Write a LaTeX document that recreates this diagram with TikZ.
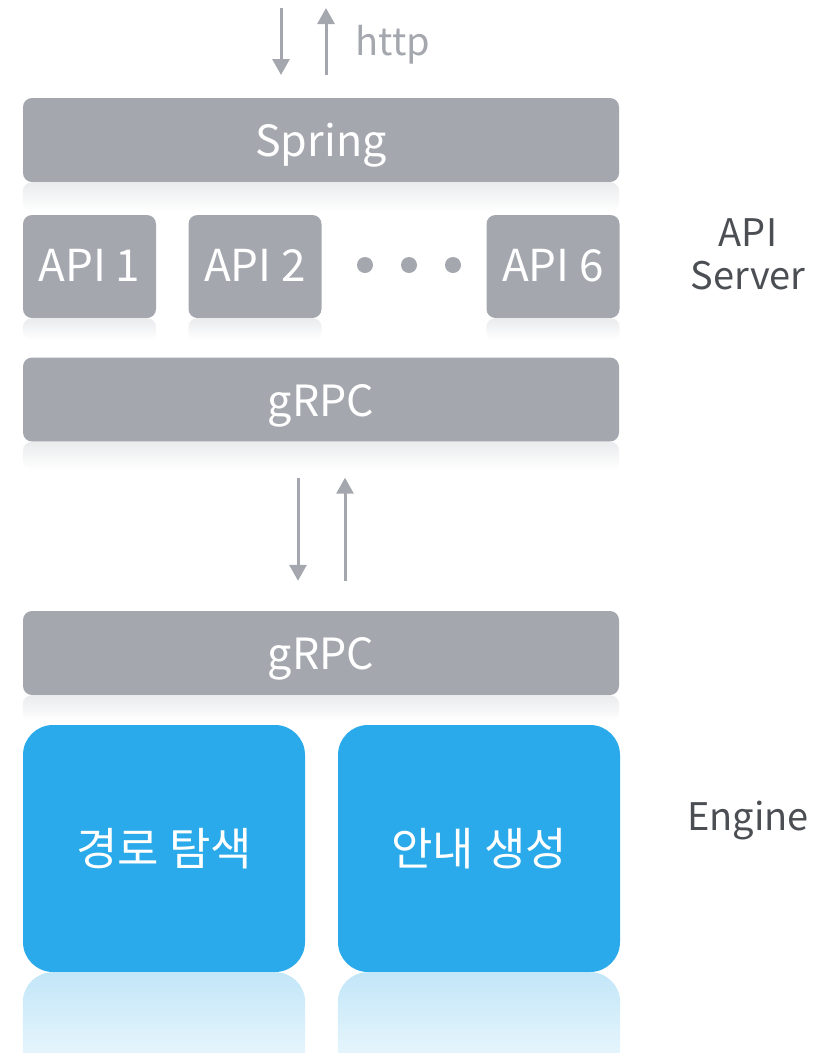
\documentclass[tikz,border=0pt]{standalone}
\usepackage{fontspec}
\setmainfont{Noto Sans CJK KR}
\usetikzlibrary{arrows.meta, positioning}

\definecolor{boxgray}{HTML}{A4A8AE}
\definecolor{engblue}{HTML}{2AAAEA}
\definecolor{lblgray}{HTML}{4B4E53}
\definecolor{shinegray}{HTML}{EAEBED}
\definecolor{shineblue}{HTML}{C2E6F8}

\begin{document}
\begin{tikzpicture}[
    x=1pt, y=-1pt,
    layer/.style={rectangle, fill=boxgray, rounded corners=9pt, minimum width=596pt, minimum height=84pt, inner sep=0pt, text=white, font=\fontsize{43}{50}\selectfont},
    bar/.style={layer, text height=33pt, text depth=0pt},
    apibox/.style={layer, minimum width=133pt, minimum height=103pt, text height=29pt, text depth=0pt, font=\fontsize{44}{50}\selectfont},
    engbox/.style={layer, fill=engblue, rounded corners=30pt, minimum width=282pt, minimum height=247pt, font=\fontsize{45}{52}\selectfont},
    lbl/.style={text=lblgray, align=center, font=\fontsize{38}{43}\selectfont},
    arr/.style={draw=boxgray, line width=3pt, -{Triangle[length=16pt, width=17pt]}},
    dot/.style={circle, fill=boxgray, minimum size=16pt, inner sep=0pt}
]
    \clip (0,0) rectangle (832,1053);

    % API server stack
    \node[bar] (spring) at (321,140) {Spring};
    \node[apibox] (api1) at (89.5,266.5) {API 1};
    \node[apibox] (api2) at (255,266.5) {API 2};
    \node[apibox] (api6) at (553,266.5) {API 6};
    \foreach \i/\x in {1/365, 2/409, 3/453}
        \node[dot] (more\i) at (\x,265) {};
    \node[bar] (grpcS) at (321,399.5) {gRPC};

    % engine stack
    \node[bar] (grpcE) at (321,653) {gRPC};
    \node[engbox] (route) at (164,848.5) {경로 탐색};
    \node[engbox] (guide) at (479,848.5) {안내 생성};

    % reflections under the boxes
    \foreach \n/\h in {spring/30, api1/22, api2/22, api6/22, grpcS/28, grpcE/26}
        \shade[top color=shinegray, bottom color=white, rounded corners=9pt]
            (\n.south west) rectangle ([yshift=-\h pt]\n.south east);
    \foreach \n in {route, guide}
        \shade[top color=shineblue, bottom color=engblue!4, rounded corners=30pt]
            (\n.south west) rectangle ([yshift=-120pt]\n.south east);

    \node[lbl] (srvlbl) at (748,254) {API\\Server};
    \node[lbl] (englbl) at (748,821) {Engine};

    % http in and out
    \coordinate (reqtop) at (281,8);
    \coordinate (reqbot) at (281,75);
    \coordinate (restop) at (326,8);
    \coordinate (resbot) at (326,75);
    \draw[arr] (reqtop) -- (reqbot);
    \draw[arr] (resbot) -- (restop);
    \node[text=boxgray, anchor=west, font=\fontsize{38}{42}\selectfont] (http) at (352,45) {http};

    % gRPC calls between the stacks
    \draw[arr, shorten <=36pt, shorten >=30pt] ([xshift=-23pt]grpcS.south) -- ([xshift=-23pt]grpcE.north);
    \draw[arr, shorten <=30pt, shorten >=36pt] ([xshift=24pt]grpcE.north) -- ([xshift=24pt]grpcS.south);
\end{tikzpicture}
\end{document}
